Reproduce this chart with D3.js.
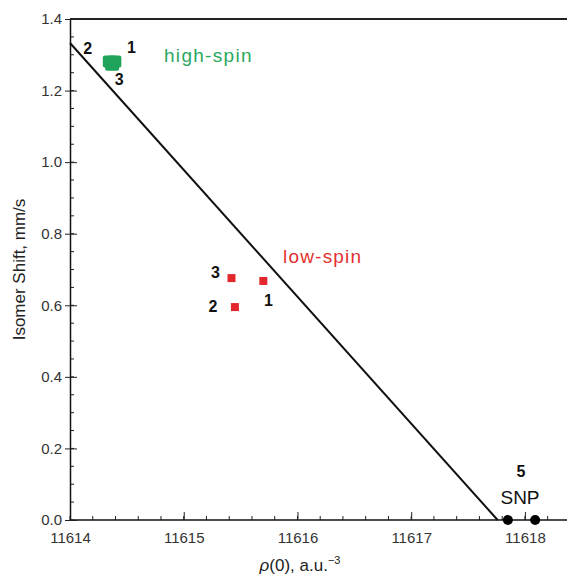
<!DOCTYPE html>
<html>
<head>
<meta charset="utf-8">
<script src="https://cdn.jsdelivr.net/npm/d3@7"></script>
<style>
  body { margin: 0; background: #fff; }
  text { font-family: "Liberation Sans", Arial, sans-serif; }
</style>
</head>
<body>
<div id="chart"></div>
<script>
// density at nucleus vs isomer shift
const highSpin = [
    { id: "2", x: 11614.35, y: 1.281 },
    { id: "1", x: 11614.39, y: 1.281 },
    { id: "3", x: 11614.37, y: 1.272 }
];
const lowSpin = [
    { id: "1", x: 11615.70, y: 0.668 },
    { id: "2", x: 11615.45, y: 0.595 },
    { id: "3", x: 11615.42, y: 0.676 }
];
const snp = [11617.85, 11618.09];
const fitLine = [
    { x: 11614, y: 1.333 },
    { x: 11617.76, y: 0 }
];
const xTicks = [11614, 11615, 11616, 11617, 11618];
const yTicks = [0, 0.2, 0.4, 0.6, 0.8, 1.0, 1.2, 1.4];

const width = 568, height = 577;
const margin = { left: 70, top: 19, right: 0, bottom: 57 };

const svg = d3.select("#chart").append("svg")
    .attr("width", width)
    .attr("height", height);

const x = d3.scaleLinear().domain([11614, 11618.37]).range([margin.left, 567]);
const y = d3.scaleLinear().domain([0, 1.4]).range([height - margin.bottom, margin.top]);

// minor ticks
const xMinor = d3.range(11614, 11618.4, 0.2);
const yMinor = d3.range(0, 1.401, 0.05);

const xAxis = svg.append("g")
    .attr("transform", `translate(0,${y(0)})`);
xAxis.selectAll(".minor")
    .data(xMinor)
    .join("line")
    .attr("x1", d => x(d)).attr("x2", d => x(d))
    .attr("y1", 0).attr("y2", -4)
    .attr("stroke", "#222").attr("stroke-width", 1);
xAxis.call(d3.axisBottom(x).tickValues(xTicks).tickFormat(d3.format("d")).tickSizeInner(-8).tickSizeOuter(0).tickPadding(12))
    .call(g => g.select(".domain").attr("stroke", "#111").attr("stroke-width", 1.5).attr("d", `M${margin.left},0H567`))
    .call(g => g.selectAll(".tick line").attr("stroke", "#222"))
    .call(g => g.selectAll(".tick text").attr("font-size", 15).attr("fill", "#333")
        .attr("font-family", "'Liberation Sans', Arial, sans-serif"));

const yAxis = svg.append("g")
    .attr("transform", `translate(${margin.left},0)`);
yAxis.selectAll(".minor")
    .data(yMinor)
    .join("line")
    .attr("x1", 0).attr("x2", 4)
    .attr("y1", d => y(d)).attr("y2", d => y(d))
    .attr("stroke", "#222").attr("stroke-width", 1);
yAxis.call(d3.axisLeft(y).tickValues(yTicks).tickFormat(d3.format(".1f")).tickSizeInner(5).tickSizeOuter(0).tickPadding(3))
    .call(g => g.select(".domain").attr("stroke", "#111").attr("stroke-width", 1.5))
    .call(g => g.selectAll(".tick line").attr("stroke", "#222").attr("x2", 7).attr("x1", -5))
    .call(g => g.selectAll(".tick text").attr("font-size", 15).attr("fill", "#333")
        .attr("font-family", "'Liberation Sans', Arial, sans-serif"));

// top frame
svg.append("line")
    .attr("x1", margin.left).attr("x2", 567)
    .attr("y1", y(1.4)).attr("y2", y(1.4))
    .attr("stroke", "#222").attr("stroke-width", 2);

// fit line
svg.append("path")
    .datum(fitLine)
    .attr("fill", "none")
    .attr("stroke", "#111")
    .attr("stroke-width", 2)
    .attr("d", d3.line().x(d => x(d.x)).y(d => y(d.y)));

// high-spin
svg.selectAll(".hs")
    .data(highSpin)
    .join("rect")
    .attr("x", d => x(d.x) - 7).attr("y", d => y(d.y) - 6)
    .attr("width", 14).attr("height", 12)
    .attr("rx", 2)
    .attr("fill", "#1ea45a");

const hsLabelPos = { "2": [-22, -13], "1": [17, -14], "3": [7, 15] };
svg.selectAll(".hsl")
    .data(highSpin)
    .join("text")
    .attr("x", d => x(d.x) + hsLabelPos[d.id][0])
    .attr("y", d => y(d.y) + hsLabelPos[d.id][1] + 5)
    .attr("text-anchor", "middle")
    .attr("font-size", 16).attr("font-weight", "bold").attr("fill", "#111")
    .text(d => d.id);

svg.append("text")
    .attr("x", 164).attr("y", 62)
    .attr("font-size", 19).attr("letter-spacing", 1.3).attr("fill", "#2aa860")
    .text("high-spin");

// low-spin
svg.selectAll(".ls")
    .data(lowSpin)
    .join("rect")
    .attr("x", d => x(d.x) - 4).attr("y", d => y(d.y) - 4)
    .attr("width", 8).attr("height", 8)
    .attr("fill", "#e4262d");

const lsLabelPos = { "1": [5, 20], "2": [-22, 0], "3": [-16, -5] };
svg.selectAll(".lsl")
    .data(lowSpin)
    .join("text")
    .attr("x", d => x(d.x) + lsLabelPos[d.id][0])
    .attr("y", d => y(d.y) + lsLabelPos[d.id][1] + 5)
    .attr("text-anchor", "middle")
    .attr("font-size", 16).attr("font-weight", "bold").attr("fill", "#111")
    .text(d => d.id);

svg.append("text")
    .attr("x", 283).attr("y", 263)
    .attr("font-size", 19).attr("letter-spacing", 1.2).attr("fill", "#e2302f")
    .text("low-spin");

// SNP
svg.selectAll(".snp")
    .data(snp)
    .join("circle")
    .attr("cx", d => x(d)).attr("cy", y(0))
    .attr("r", 5)
    .attr("fill", "#000");

svg.append("text")
    .attr("x", 521).attr("y", 477)
    .attr("text-anchor", "middle")
    .attr("font-size", 16).attr("font-weight", "bold").attr("fill", "#111")
    .text("5");
svg.append("text")
    .attr("x", 520).attr("y", 504)
    .attr("text-anchor", "middle")
    .attr("font-size", 19).attr("fill", "#111")
    .text("SNP");

// axis titles
svg.append("text")
    .attr("transform", `translate(25,${(y(0) + y(1.4)) / 2}) rotate(-90)`)
    .attr("text-anchor", "middle")
    .attr("font-size", 17).attr("fill", "#222")
    .text("Isomer Shift, mm/s");

const xt = svg.append("text")
    .attr("x", 300).attr("y", 571)
    .attr("text-anchor", "middle")
    .attr("font-size", 17).attr("fill", "#222");
xt.append("tspan").attr("font-style", "italic").text("ρ");
xt.append("tspan").text("(0), a.u.");
xt.append("tspan").attr("dy", -7).attr("font-size", 11).text("−3");
</script>
</body>
</html>
